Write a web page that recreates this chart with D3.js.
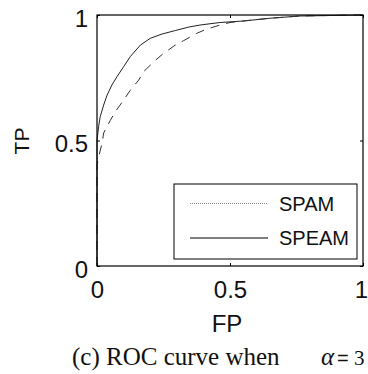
<!DOCTYPE html>
<html>
<head>
<meta charset="utf-8">
<script src="https://cdn.jsdelivr.net/npm/d3@7"></script>
<style>
html,body{margin:0;padding:0;background:#fff;}
svg{display:block;}
</style>
</head>
<body>
<script>
// Data
const seriesNames = ["SPAM", "SPEAM"];
const fpSPAM = [0, 0, 0.005, 0.019, 0.025, 0.05, 0.069, 0.1, 0.125, 0.157, 0.175, 0.22, 0.25, 0.294, 0.326, 0.375, 0.41, 0.462, 0.5, 0.549, 0.65, 0.763, 0.876, 1];
const tpSPAM = [0, 0.40, 0.43, 0.489, 0.53, 0.58, 0.615, 0.661, 0.70, 0.741, 0.774, 0.82, 0.847, 0.88, 0.898, 0.927, 0.943, 0.96, 0.97, 0.976, 0.987, 0.996, 0.998, 1];
const fpSPEAM = [0, 0, 0.006, 0.012, 0.025, 0.038, 0.056, 0.075, 0.1, 0.125, 0.163, 0.2, 0.244, 0.294, 0.345, 0.387, 0.462, 0.549, 0.65, 0.763, 0.876, 1];
const tpSPEAM = [0, 0.50, 0.555, 0.595, 0.641, 0.681, 0.721, 0.754, 0.794, 0.834, 0.88, 0.907, 0.924, 0.938, 0.952, 0.96, 0.97, 0.976, 0.987, 0.996, 0.998, 1];
const xTicks = [0, 0.5, 1];
const yTicks = [0, 0.5, 1];
const xTickLabels = ["0", "0.5", "1"];
const yTickLabels = ["0", "0.5", "1"];

const W = 368, H = 374;
const L = 97, R = 363, T = 15, B = 266;
const svg = d3.select("body").append("svg").attr("width", W).attr("height", H);
const x = d3.scaleLinear().domain([0, 1]).range([L, R]);
const y = d3.scaleLinear().domain([0, 1]).range([B, T]);
const sans = "'Liberation Sans', Arial, sans-serif";

// curves
const line = d3.line().x(d => x(d[0])).y(d => y(d[1]));
const spam = fpSPAM.map((v, i) => [v, tpSPAM[i]]);
const speam = fpSPEAM.map((v, i) => [v, tpSPEAM[i]]);
svg.append("path").attr("d", line(speam)).attr("fill", "none").attr("stroke", "#222").attr("stroke-width", 1);
svg.append("path").attr("d", line(spam)).attr("fill", "none").attr("stroke", "#333").attr("stroke-width", 1).attr("stroke-dasharray", "9,7");

// frame
svg.append("rect").attr("x", L).attr("y", T).attr("width", R - L).attr("height", B - T)
  .attr("fill", "none").attr("stroke", "#000").attr("stroke-width", 1.2);

// axes with inward ticks
const xb = svg.append("g").attr("transform", `translate(0,${B})`)
  .call(d3.axisBottom(x).tickValues(xTicks).tickSize(-3).tickFormat((d, i) => xTickLabels[i]));
const xt = svg.append("g").attr("transform", `translate(0,${T})`)
  .call(d3.axisTop(x).tickValues(xTicks).tickSize(-3).tickFormat(""));
const yl = svg.append("g").attr("transform", `translate(${L},0)`)
  .call(d3.axisLeft(y).tickValues(yTicks).tickSize(-3).tickFormat((d, i) => yTickLabels[i]));
const yr = svg.append("g").attr("transform", `translate(${R},0)`)
  .call(d3.axisRight(y).tickValues(yTicks).tickSize(-3).tickFormat(""));
[xb, xt, yl, yr].forEach(g => { g.select(".domain").remove(); g.selectAll("line").attr("stroke", "#000"); });
xb.selectAll("text").attr("font-family", sans).attr("font-size", 24).attr("fill", "#111")
  .attr("dy", null).attr("y", 32)
  .attr("x", (d, i) => i === xTicks.length - 1 ? -2 : 0);
yl.selectAll("text").attr("font-family", sans).attr("font-size", 24).attr("fill", "#111")
  .attr("dy", null).attr("x", -9).attr("y", 11);

// axis titles
svg.append("text").attr("x", 227).attr("y", 332).attr("text-anchor", "middle")
  .attr("font-family", sans).attr("font-size", 24).attr("fill", "#111").text("FP");
svg.append("text").attr("transform", "translate(29,141) rotate(-90)").attr("text-anchor", "middle")
  .attr("font-family", sans).attr("font-size", 21).attr("fill", "#111").text("TP");

// legend
const lg = svg.append("g");
lg.append("rect").attr("x", 174).attr("y", 184).attr("width", 183).attr("height", 75)
  .attr("fill", "#fff").attr("stroke", "#000").attr("stroke-width", 1);
const legY = [203.5, 238];
const legStyle = [{ stroke: "#888", dash: "1,1" }, { stroke: "#000", dash: null }];
seriesNames.forEach((n, i) => {
  lg.append("line").attr("x1", 190).attr("x2", 268).attr("y1", legY[i]).attr("y2", legY[i])
    .attr("stroke", legStyle[i].stroke).attr("stroke-width", 1).attr("stroke-dasharray", legStyle[i].dash);
  lg.append("text").attr("x", 279).attr("y", legY[i] + 7).attr("font-family", sans).attr("font-size", 20)
    .attr("fill", "#111").text(n);
});

// caption
const serif = "'Liberation Serif', 'Times New Roman', serif";
const cap = svg.append("text").attr("y", 365).attr("font-family", serif).attr("font-size", 25).attr("fill", "#111");
cap.append("tspan").attr("x", 72).text("(c) ROC curve when");
cap.append("tspan").attr("x", 321).attr("font-style", "italic").text("α");
cap.append("tspan").attr("x", 337).attr("font-family", sans).attr("font-size", 20).text("=");
cap.append("tspan").attr("x", 354).attr("font-size", 21).text("3");
</script>
</body>
</html>
